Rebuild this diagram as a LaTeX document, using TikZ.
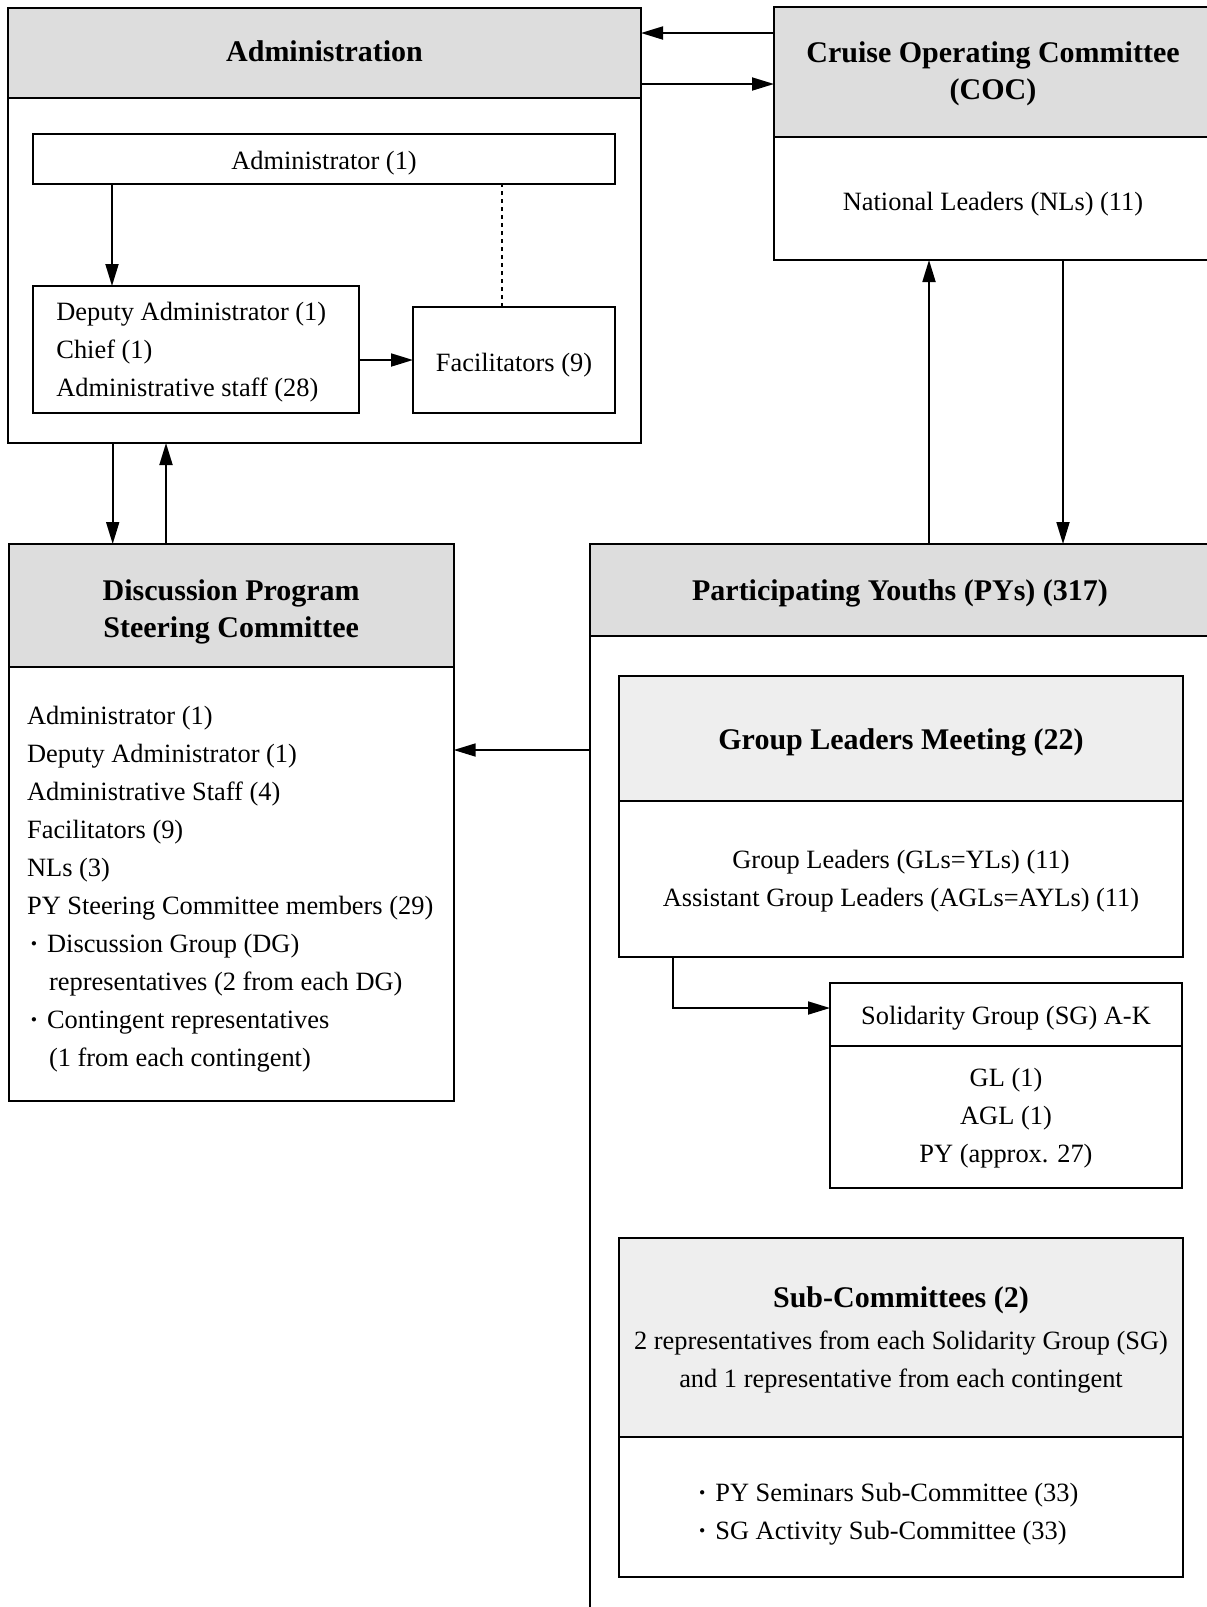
\documentclass[tikz,border=0pt]{standalone}
\usepackage{fontspec}
\setmainfont{Liberation Serif}
\usetikzlibrary{arrows.meta,calc}
\definecolor{hdr}{RGB}{221,221,221}
\definecolor{hdrl}{RGB}{238,238,238}
\newcommand{\bul}{\makebox[10pt][l]{\hspace{1.2pt}{\bfseries ·}}}
\newcommand{\dn}[2]{\raisebox{-#1}[\height][\depth]{#2}}
\begin{document}
\begin{tikzpicture}[x=0.5pt,y=-0.5pt,
  box/.style={draw,line width=1pt,rectangle,inner sep=0pt,outer sep=0pt,anchor=north west},
  txt/.style={font=\fontsize{13.2}{19}\selectfont},
  hd/.style={box,fill=hdr,font=\fontsize{15}{18.5}\selectfont\bfseries,align=center},
  hdl/.style={box,fill=hdrl,font=\fontsize{15}{18.5}\selectfont\bfseries,align=center},
  ltext/.style={txt,align=left,anchor=west,inner sep=0pt},
  arr/.style={line width=0.9pt,-{Triangle[length=11pt,width=6.5pt]}},
  dotln/.style={line width=0.8pt,dash pattern=on 2pt off 2pt},
]
\useasboundingbox (0,0) rectangle (1206,1607);

% Administration
\node[hd,minimum width=316.5pt,minimum height=45pt] (admh) at (8,8) {\dn{-1pt}{Administration}};
\node[box,minimum width=316.5pt,minimum height=172.5pt] (admb) at (8,98) {};
\node[box,txt,minimum width=291pt,minimum height=25pt] (adm1) at (33,134) {\dn{2pt}{Administrator (1)}};
\node[box,minimum width=163pt,minimum height=63.5pt] (dep) at (33,286) {};
\node[ltext] (dept) at ($(dep.west)+(23,3)$) {Deputy Administrator (1)\\Chief (1)\\Administrative staff (28)};
\node[box,txt,minimum width=101pt,minimum height=53pt] (fac) at (413,307) {\dn{2.5pt}{Facilitators (9)}};

% COC
\node[hd,minimum width=219pt,minimum height=65pt] (coch) at (774,7) {\dn{1pt}{Cruise Operating Committee}\\\dn{1pt}{(COC)}};
\node[box,txt,minimum width=219pt,minimum height=61.5pt] (cocb) at (774,137) {\dn{3pt}{National Leaders (NLs) (11)}};

% DPSC
\node[hd,minimum width=222.5pt,minimum height=61.5pt] (dpsh) at (8.7,544) {\dn{3pt}{Discussion Program}\\\dn{3pt}{Steering Committee}};
\node[box,minimum width=222.5pt,minimum height=217pt] (dpsb) at (8.7,667) {};
\node[ltext] (dpst) at ($(dpsb.west)+(18,5)$) {Administrator (1)\\
Deputy Administrator (1)\\
Administrative Staff (4)\\
Facilitators (9)\\
NLs (3)\\
PY Steering Committee members (29)\\
\bul Discussion Group (DG)\\
\hspace*{11pt}representatives (2 from each DG)\\
\bul Contingent representatives\\
\hspace*{11pt}(1 from each contingent)};

% PY
\node[hd,minimum width=310pt,minimum height=46pt] (pyh) at (590,544) {\dn{1.5pt}{Participating Youths (PYs) (317)}};
\node[box,minimum width=310pt,minimum height=492pt] (pyb) at (590,636) {};

% GLM
\node[hdl,minimum width=282pt,minimum height=62.5pt] (glmh) at (619,676) {\dn{2pt}{Group Leaders Meeting (22)}};
\node[box,txt,align=center,minimum width=282pt,minimum height=78pt] (glmb) at (619,801) {\dn{1pt}{Group Leaders (GLs=YLs) (11)}\\\dn{1pt}{Assistant Group Leaders (AGLs=AYLs) (11)}};

% SG
\node[box,txt,minimum width=176pt,minimum height=31.5pt] (sgh) at (830,983) {\dn{2pt}{Solidarity Group (SG) A-K}};
\node[box,txt,align=center,minimum width=176pt,minimum height=71pt] (sgb) at (830,1046) {\dn{0.5pt}{GL (1)}\\\dn{0.5pt}{AGL (1)}\\\dn{0.5pt}{PY (approx. 27)}};

% Sub-Committees
\node[box,fill=hdrl,txt,align=center,minimum width=282pt,minimum height=99.5pt] (sch) at (619,1238) {\dn{1pt}{\fontsize{15}{19}\selectfont\bfseries Sub-Committees (2)}\\[2pt]\dn{1pt}{2 representatives from each Solidarity Group (SG)}\\\dn{1pt}{and 1 representative from each contingent}};
\node[box,minimum width=282pt,minimum height=70pt] (scb) at (619,1437) {};
\node[ltext] (scbt) at ($(scb.west)+(76,7)$) {\bul PY Seminars Sub-Committee (33)\\\bul SG Activity Sub-Committee (33)};

% connectors
\draw[arr] ($(adm1.south west)+(79,0)$) -- ($(dep.north west)+(79,0)$);
\draw[arr] (dep.east |- fac.west) -- (fac.west);
\coordinate (d1) at ($(fac.north)+(-12,0)$);
\draw[dotln] (d1) -- (d1 |- adm1.south);

\coordinate (a) at ($(coch.north west)+(0,26)$);
\draw[arr] (a) -- (a -| admh.east);
\coordinate (b) at ($(admh.north east)+(0,76)$);
\draw[arr] (b) -- (b -| coch.west);

\coordinate (c) at ($(admb.south west)+(104.7,0)$);
\draw[arr] (c) -- (c |- dpsh.north);
\coordinate (d) at ($(dpsh.north west)+(157.3,0)$);
\draw[arr] (d) -- (d |- admb.south);

\coordinate (e) at ($(pyh.north west)+(339,0)$);
\draw[arr] (e) -- (e |- cocb.south);
\coordinate (f) at ($(cocb.south west)+(289,0)$);
\draw[arr] (f) -- (f |- pyh.north);

\coordinate (g) at ($(pyb.north west)+(0,114)$);
\draw[arr] (g) -- (g -| dpsb.east);

\coordinate (h) at ($(glmb.south west)+(54,0)$);
\draw[arr] (h) |- ($(sgh.west)+(0,-6.5)$);
\end{tikzpicture}
\end{document}
